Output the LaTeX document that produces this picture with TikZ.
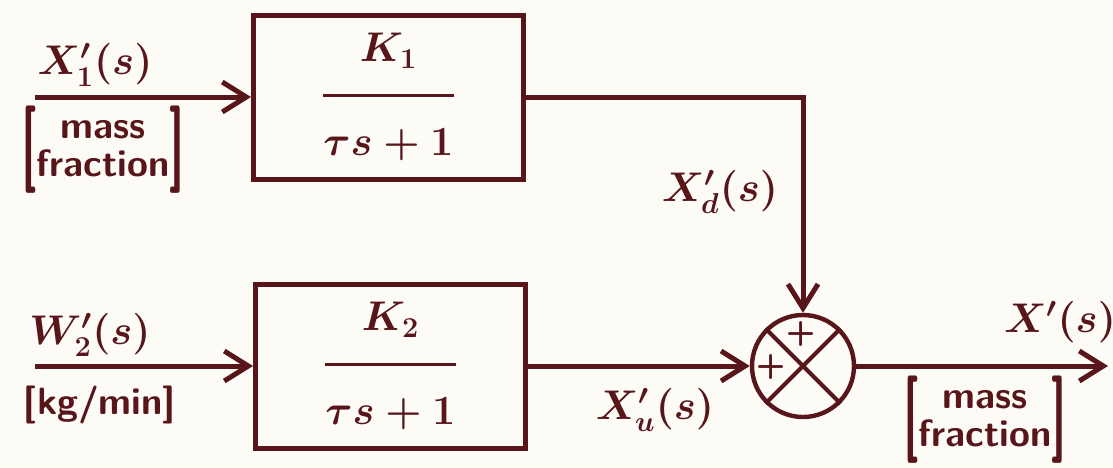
\documentclass[tikz,border=0pt]{standalone}
\usepackage{amsmath}
\usepackage{graphicx}
\usetikzlibrary{arrows.meta}
\definecolor{ink}{RGB}{88,22,26}
\definecolor{paper}{RGB}{252,251,246}
\newcommand{\tallbr}[1]{\vcenter{\hbox{\scalebox{1.1}[2.3]{#1}}}}
\newcommand{\massfrac}{$\tallbr{[}\begin{tabular}{@{}c@{}}mass\\fraction\end{tabular}\tallbr{]}$}
\newcommand{\tf}[1]{$\genfrac{}{}{1.4pt}{0}{K_#1\rule[-12pt]{0pt}{12pt}}{\rule{0pt}{25pt}\tau s+1}$}
\begin{document}
\begin{tikzpicture}[x=0.5pt,y=-0.5pt,
  blk/.style={draw=ink, line width=2.5pt, minimum width=135pt, minimum height=82pt, inner sep=0pt, text=ink, font=\fontsize{20}{24}\selectfont\boldmath},
  sumnode/.style={circle, draw=ink, line width=2.2pt, minimum size=51pt, inner sep=0pt},
  conn/.style={draw=ink, line width=2.5pt},
  arr/.style={conn, -{Straight Barb[length=12pt,width=15pt]}},
  lbl/.style={text=ink, inner sep=0pt, font=\fontsize{20}{24}\selectfont\boldmath},
  plus/.style={text=ink, inner sep=0pt, font=\fontsize{17}{17}\selectfont\sffamily\bfseries},
  unit/.style={text=ink, inner sep=0pt, font=\fontsize{19}{19}\selectfont\sffamily\bfseries\boldmath}]
\useasboundingbox (0,0) rectangle (1113,467);
\fill[paper] (0,0) rectangle (1113,467);
% blocks
\node[blk] (b1) at (388.5,97) {\tf{1}};
\node[blk] (b2) at (390.5,366) {\tf{2}};
\node[sumnode] (sum) at (803,366) {};
\draw[conn, line width=2pt] (sum.north west) -- (sum.south east);
\draw[conn, line width=2pt] (sum.north east) -- (sum.south west);
\node[plus] (p1) at (801,334) {+};
\node[plus] (p2) at (771,367) {+};
% free ends
\coordinate (i1) at (35,97);
\coordinate (i2) at (35,366);
\coordinate (o) at (1108,366);
% connectors
\draw[arr] (i1) -- (b1.west);
\draw[arr] (i2) -- (b2.west);
\draw[arr] (b1.east) -| (sum.north);
\draw[arr] (b2.east) -- (sum.west);
\draw[arr] (sum.east) -- (o);
% labels
\node[lbl] (lx1) at (95,65) {$X_1'(s)$};
\node[unit] (lu1) at (103,150) {\massfrac};
\node[lbl] (lxd) at (720,192) {$X_d'(s)$};
\node[lbl] (lw2) at (90,335) {$W_2'(s)$};
\node[unit] (lu2) at (100,405) {[kg/min]};
\node[lbl] (lxu) at (655,410) {$X_u'(s)$};
\node[lbl] (lx) at (1060,322) {$X'(s)$};
\node[unit] (lu3) at (985,420) {\massfrac};
\end{tikzpicture}
\end{document}
